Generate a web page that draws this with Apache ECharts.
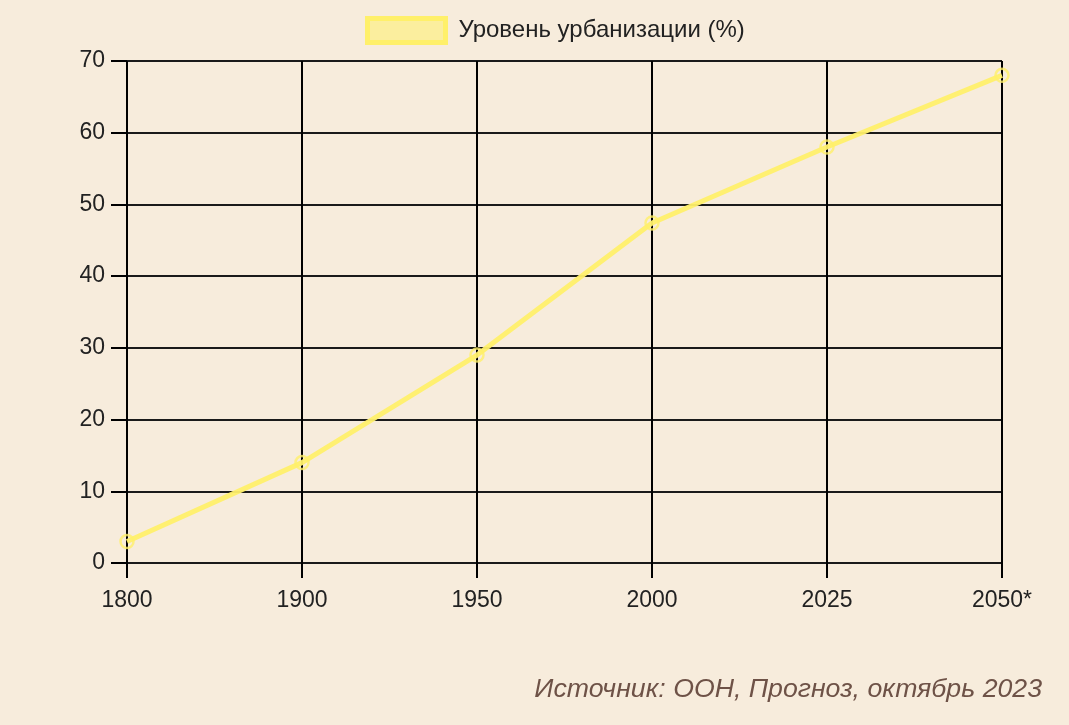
<!DOCTYPE html>
<html>
<head>
<meta charset="utf-8">
<style>
  html, body { margin: 0; padding: 0; background: #f7ecdc; }
  #chart { width: 1069px; height: 725px; }
</style>
<script src="https://cdn.jsdelivr.net/npm/echarts@6/dist/echarts.min.js"></script>
</head>
<body>
<div id="chart"></div>
<script>
// data
var years = ['1800', '1900', '1950', '2000', '2025', '2050*']
var urbanLevel = [3, 14, 29, 47.4, 58, 68]
var seriesName = 'Уровень урбанизации (%)'
var sourceText = 'Источник: ООН, Прогноз, октябрь 2023'

var chart = echarts.init(document.getElementById('chart'))
chart.setOption({
  backgroundColor: '#f7ecdc',
  animation: false,
  textStyle: { fontFamily: 'Liberation Sans, Arial, sans-serif' },
  legend: {
    top: 11,
    left: 360,
    itemWidth: 78,
    itemHeight: 24,
    itemGap: 10,
    icon: 'rect',
    textStyle: { fontSize: 24, color: '#222', padding: [0, 0, 0, 8] },
    itemStyle: { color: '#fbee9e', borderColor: '#fff06a', borderWidth: 5 },
    data: [seriesName]
  },
  graphic: [{
    type: 'text',
    right: 27,
    top: 676,
    style: {
      text: sourceText,
      fontSize: 26.7,
      fontStyle: 'italic',
      fontFamily: 'Liberation Sans, Arial, sans-serif',
      fill: '#6e5247'
    }
  }],
  grid: {
    left: 127,
    right: 67,
    top: 61,
    bottom: 162,
    containLabel: false
  },
  xAxis: {
    type: 'category',
    boundaryGap: false,
    data: years,
    axisLine: { show: false },
    axisTick: { show: true, length: 15, lineStyle: { color: '#000', width: 2 } },
    axisLabel: { fontSize: 23, color: '#222', margin: 26 },
    splitLine: { show: true, lineStyle: { color: '#000', width: 2 } }
  },
  yAxis: {
    type: 'value',
    min: 0,
    max: 70,
    interval: 10,
    axisLine: { show: false },
    axisTick: { show: true, length: 16, lineStyle: { color: '#000', width: 2 } },
    axisLabel: { fontSize: 23, color: '#222', margin: 22 },
    splitLine: { show: true, lineStyle: { color: '#1a1a1a', width: 2 } }
  },
  series: [{
    name: seriesName,
    type: 'line',
    data: urbanLevel,
    symbol: 'circle',
    symbolSize: 13,
    lineStyle: { color: '#fff06a', width: 5, opacity: 0.95 },
    itemStyle: { color: 'rgba(0,0,0,0)', borderColor: 'rgba(255,240,106,0.8)', borderWidth: 2.5 }
  }]
})
</script>
</body>
</html>
